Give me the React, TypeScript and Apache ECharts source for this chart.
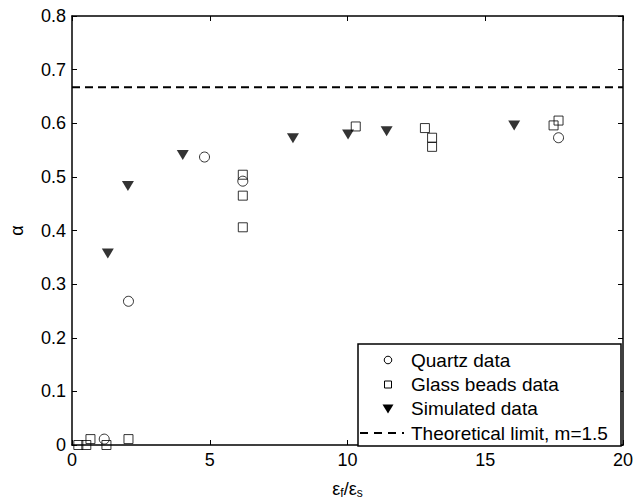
import React, { useEffect, useRef } from "react";
import * as echarts from "echarts";

const quartzX = [1.17, 2.05, 4.81, 6.2, 17.66];
const quartzY = [0.011, 0.268, 0.537, 0.492, 0.573];

const glassX = [0.23, 0.52, 0.67, 1.25, 2.05, 6.2, 6.2, 6.2, 10.3, 12.81, 13.07, 13.07, 17.48, 17.66];
const glassY = [0.0, 0.0, 0.011, 0.0, 0.011, 0.504, 0.465, 0.406, 0.594, 0.591, 0.573, 0.556, 0.596, 0.605];

const simX = [1.3, 2.03, 4.02, 8.02, 10.02, 11.42, 16.05];
const simY = [0.357, 0.483, 0.541, 0.572, 0.579, 0.585, 0.596];

const limitX = [0, 20];
const limitY = [0.667, 0.667];

const xTicks = [0, 5, 10, 15, 20];
const yTicks = [0, 0.1, 0.2, 0.3, 0.4, 0.5, 0.6, 0.7, 0.8];

const legendNames = ["Quartz data", "Glass beads data", "Simulated data", "Theoretical limit, m=1.5"];

const zip = (xs: number[], ys: number[]) => xs.map((x, i) => [x, ys[i]]);

export default function App() {
  const ref = useRef<HTMLDivElement>(null);
  useEffect(() => {
    if (!ref.current) return;
    const chart = echarts.init(ref.current, null, { renderer: "svg" });
    const font = "Liberation Sans, Arial, Helvetica, sans-serif";
    const axisCommon = {
      axisLine: { show: true, onZero: false, lineStyle: { color: "#000", width: 1.5 } },
      axisTick: { show: true, inside: true, length: 5, lineStyle: { color: "#000", width: 1 } },
      splitLine: { show: false },
    };

    // legend drawn as graphic
    const lgLeft = 358, lgTop = 344, lgW = 263, lgH = 102;
    const rowY = [360, 384.5, 408.5, 433];
    const symX = 388;
    const textX = 411;
    const legendGraphic: any[] = [
      {
        type: "rect",
        shape: { x: lgLeft, y: lgTop, width: lgW, height: lgH },
        style: { fill: "#fff", stroke: "#000", lineWidth: 1.5 },
        z: 100,
      },
      {
        type: "circle",
        shape: { cx: symX, cy: rowY[0], r: 3.8 },
        style: { fill: "none", stroke: "#000", lineWidth: 1 },
        z: 101,
      },
      {
        type: "rect",
        shape: { x: symX - 3.5, y: rowY[1] - 3.5, width: 7, height: 7 },
        style: { fill: "none", stroke: "#000", lineWidth: 1 },
        z: 101,
      },
      {
        type: "polygon",
        shape: { points: [[symX - 5.5, rowY[2] - 4], [symX + 5.5, rowY[2] - 4], [symX, rowY[2] + 5]] },
        style: { fill: "#000" },
        z: 101,
      },
      {
        type: "line",
        shape: { x1: 360, y1: rowY[3], x2: 404, y2: rowY[3] },
        style: { stroke: "#000", lineWidth: 2, lineDash: [8, 6] },
        z: 101,
      },
      ...legendNames.map((n, i) => ({
        type: "text",
        x: textX,
        y: rowY[i],
        style: { text: n, fill: "#000", fontSize: 19, fontFamily: font, textVerticalAlign: "middle", verticalAlign: "middle" },
        z: 101,
      })),
    ];

    chart.setOption({
      animation: false,
      backgroundColor: "#fff",
      textStyle: { fontFamily: font },
      grid: { left: 71, right: 20, top: 16, bottom: 52.5, containLabel: false },
      xAxis: [
        {
          type: "value",
          min: xTicks[0],
          max: xTicks[xTicks.length - 1],
          interval: 5,
          position: "bottom",
          ...axisCommon,
          axisLabel: { color: "#000", fontSize: 18, fontFamily: font, margin: 6 },
          name: "{e|ε}{s|f}{e|/ε}{s|s}",
          nameLocation: "middle",
          nameGap: 33,
          nameTextStyle: {
            rich: {
              e: { fontSize: 18, color: "#000", fontFamily: font },
              s: { fontSize: 12, color: "#000", fontFamily: font, verticalAlign: "bottom", padding: [9, 0, 0, 0] },
            },
          },
        },
        {
          type: "value",
          min: xTicks[0],
          max: xTicks[xTicks.length - 1],
          interval: 5,
          position: "top",
          ...axisCommon,
          axisLabel: { show: false },
        },
      ],
      yAxis: [
        {
          type: "value",
          min: yTicks[0],
          max: yTicks[yTicks.length - 1],
          interval: 0.1,
          position: "left",
          ...axisCommon,
          axisLabel: {
            color: "#000",
            fontSize: 18,
            fontFamily: font,
            margin: 6,
            formatter: (v: number) => (v === 0 ? "0" : v.toFixed(1)),
          },
          name: "α",
          nameLocation: "middle",
          nameRotate: 90,
          nameGap: 46,
          nameTextStyle: { fontSize: 18, color: "#000", fontFamily: font },
        },
        {
          type: "value",
          min: yTicks[0],
          max: yTicks[yTicks.length - 1],
          interval: 0.1,
          position: "right",
          ...axisCommon,
          axisLabel: { show: false },
        },
      ],
      graphic: legendGraphic,
      series: [
        {
          name: legendNames[0],
          type: "scatter",
          symbol: "circle",
          symbolSize: 10,
          itemStyle: { color: "rgba(255,255,255,0)", borderColor: "#000", borderWidth: 1 },
          data: zip(quartzX, quartzY),
          z: 3,
        },
        {
          name: legendNames[1],
          type: "scatter",
          symbol: "rect",
          symbolSize: 9,
          itemStyle: { color: "rgba(255,255,255,0)", borderColor: "#000", borderWidth: 1 },
          data: zip(glassX, glassY),
          z: 3,
        },
        {
          name: legendNames[2],
          type: "scatter",
          symbol: "triangle",
          symbolRotate: 180,
          symbolSize: [12, 10],
          itemStyle: { color: "#000" },
          data: zip(simX, simY),
          z: 4,
        },
        {
          name: legendNames[3],
          type: "line",
          symbol: "none",
          showSymbol: false,
          color: "#000",
          lineStyle: { color: "#000", width: 2, type: [8, 5] },
          data: zip(limitX, limitY),
          z: 2,
        },
      ],
    });
    return () => chart.dispose();
  }, []);
  return <div ref={ref} style={{ position: "fixed", left: 0, top: 0, width: 643, height: 504 }} />;
}
